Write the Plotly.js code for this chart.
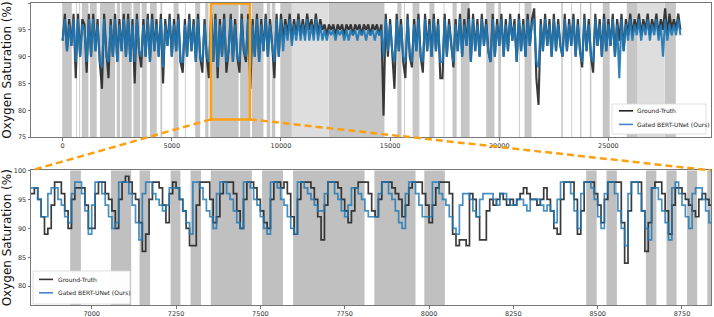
<!DOCTYPE html>
<html>
<head>
<meta charset="utf-8">
<script src="https://cdn.plot.ly/plotly-3.0.1.min.js"></script>
<style>
  html, body { margin: 0; padding: 0; background: #ffffff; }
  #chart { width: 714px; height: 317px; }
</style>
</head>
<body>
<div id="chart"></div>
<script>
// ---------------- DATA ----------------
const SERIES_NAMES = ["Ground-Truth", "Gated BERT-UNet (Ours)"];
const Y_TITLE = "Oxygen Saturation (%)";

// Overview panel: one reading every 100 samples, starting at sample 0
const TOP_X_START = 0;
const TOP_X_STEP = 100;
const GT_TOP = [
  93,98,91,97,92,98,86,98,90,97,
  96,87,98,90,98,91,97,89,84,98,
  91,86,97,90,98,89,97,91,98,90,
  98,89,97,85,98,91,88,97,90,98,
  89,98,91,97,90,98,85,97,92,98,
  90,97,91,98,89,87,97,90,98,91,
  97,89,98,90,87,97,90,86,98,89,
  98,86,97,90,98,87,91,98,89,97,
  90,87,98,91,89,98,84,97,90,98,
  89,97,91,98,90,97,92,86,98,90,
  98,93,97,94,98,93,97,94,98,94,
  97,94,98,95,97,94,98,94,97,95,
  96,94,96,95,96,94,96,95,96,94,
  96,95,96,94,96,95,96,94,96,95,
  96,94,96,95,96,94,96,79,98,90,
  97,90,84,98,91,97,89,86,98,90,
  88,97,91,98,90,87,98,91,97,90,
  98,91,97,86,86,98,90,97,92,88,
  97,91,98,90,97,92,99,89,98,91,
  97,90,98,92,97,91,89,98,90,97,
  92,98,90,97,91,98,93,97,89,98,
  91,97,90,98,92,97,99,86,81,97,
  91,98,92,97,90,98,91,97,92,90,
  98,91,97,92,98,90,97,91,88,98,
  91,97,90,87,98,92,97,90,98,91,
  97,92,98,90,97,93,98,91,97,94,
  98,94,97,95,98,94,97,95,98,94,
  97,95,98,94,97,95,99,94,98,95,
  97,95,98,95
];
const PRED_TOP = [
  93,97,91,96,92,97,89,97,90,96,
  95,89,97,90,97,91,96,89,88,97,
  90,89,96,90,97,89,96,91,97,90,
  97,89,96,89,97,91,90,96,90,97,
  89,97,91,96,90,97,88,96,92,97,
  90,96,91,97,89,89,96,90,97,91,
  96,89,97,90,89,96,90,89,97,89,
  97,88,96,90,97,89,91,97,89,96,
  90,89,97,91,90,97,88,96,90,97,
  89,96,91,97,90,96,92,89,97,90,
  97,91,96,93,97,92,96,93,97,93,
  96,93,97,93,96,93,97,93,96,93,
  95,93,95,94,95,93,95,94,95,93,
  95,93,95,94,95,93,95,94,95,93,
  95,94,95,93,95,94,95,90,97,91,
  96,91,89,97,91,96,90,89,97,91,
  89,96,91,97,90,89,97,91,96,90,
  97,91,96,89,89,97,90,96,92,89,
  96,91,97,90,96,92,97,89,97,91,
  96,90,97,92,96,91,89,97,90,96,
  92,97,90,96,91,97,93,96,89,97,
  91,96,90,97,92,96,97,89,88,96,
  91,97,92,96,90,97,91,96,92,90,
  97,91,96,92,97,90,96,91,89,97,
  91,96,90,89,97,92,96,90,97,91,
  96,92,97,90,96,86,97,91,96,93,
  97,93,96,94,97,93,96,94,97,93,
  96,94,97,93,96,90,97,93,96,94,
  96,94,97,94
];

// Zoomed panel: one reading every 10 samples, starting at sample 6820
const ZOOM_X_START = 6820;
const ZOOM_X_STEP = 10;
const GT_ZOOM = [
  96,97,95,92,89,90,94,98,98,96,
  93,90,95,97,97,97,94,90,90,96,
  98,98,96,95,93,90,95,98,99,98,
  96,95,91,86,89,95,98,98,97,94,
  91,96,98,97,95,93,90,87,87,94,
  98,98,98,95,91,92,96,98,98,98,
  96,93,90,95,98,98,97,95,93,91,
  90,95,98,98,97,98,96,92,89,95,
  98,98,98,97,95,92,88,94,98,98,
  98,97,95,93,91,93,97,98,98,98,
  96,93,92,95,98,98,98,97,96,95,
  92,94,97,98,98,98,96,94,91,94,
  97,98,98,98,96,89,87,88,88,87,
  96,95,92,88,88,93,95,94,95,96,
  95,94,95,94,95,96,97,96,95,95,
  94,95,97,95,93,90,89,95,98,98,
  98,95,89,93,98,98,98,96,94,91,
  95,98,98,98,98,91,84,93,98,98,
  98,93,86,91,97,98,98,96,93,89,
  94,97,97,96,95,94,93,92,95,96,
  95,94,94
];
const PRED_ZOOM = [
  97,97,95,92,92,96,97,97,95,94,
  92,91,96,98,98,96,93,89,94,98,
  98,96,94,92,90,91,98,98,98,96,
  94,91,88,96,98,98,96,95,94,93,
  94,97,97,97,95,93,91,89,98,98,
  97,95,93,92,90,96,98,98,96,95,
  93,91,90,98,98,97,95,94,92,90,
  89,98,98,97,95,94,92,90,89,98,
  98,97,96,95,94,93,93,96,98,98,
  96,95,93,92,94,97,97,96,95,93,
  92,92,92,96,98,98,96,95,93,91,
  90,96,98,98,96,94,92,92,92,98,
  98,96,95,94,92,90,89,94,96,96,
  95,93,92,95,96,96,96,95,94,96,
  96,95,94,94,95,95,94,93,95,95,
  95,94,93,94,93,91,95,98,98,98,
  96,93,90,96,98,98,97,95,92,90,
  96,98,98,96,93,90,87,96,98,98,
  96,93,90,88,97,97,95,93,91,88,
  97,98,96,94,92,90,96,97,97,95,
  93,91,90
];

// Shaded (gray) spans, [start, end] in samples
const TOP_SPANS = [
  [-20,420],[610,650],[760,800],[880,1180],[1250,1560],[1710,2400],[2480,2630],
  [2700,3160],[3240,3550],[3620,3850],[4000,4310],[4480,4560],[5080,5310],[5600,5640],
  [6070,6300],[6530,6680],[6760,8060],[8130,8590],[8670,9200],[9350,9510],[9580,9740],
  [9970,10500],[12190,14740],
  [15330,15520],[15640,15680],[16030,16340],[16800,17030],[17450,17490],[17860,18050],
  [18240,18640],[19400,19780],[19950,20080],[20900,20940],[21160,21480],[22840,22910],
  [23300,23340],[23700,23760],[24150,24220],[24740,25060],[25840,26340],[27580,28090]
];
const TOP_LIGHT_SPANS = [[10500,12190],[26340,27580]];
const ZOOM_SPANS = [
  [6936,6968],[7057,7117],[7142,7173],[7234,7263],[7293,7324],[7353,7475],
  [7505,7567],[7597,7809],[7838,7960],[7986,8047],[8466,8497],[8526,8557],
  [8643,8674],[8704,8734],[8765,8795],[8825,8840]
];
// Zoom window drawn on the overview: [x0, x1, y0, y1]
const ZOOM_WINDOW = [6790, 8580, 78.3, 99.9];

const TOP_X_TICKS = [0, 5000, 10000, 15000, 20000, 25000];
const TOP_Y_TICKS = [75, 80, 85, 90, 95, 100];
const ZOOM_X_TICKS = [7000, 7250, 7500, 7750, 8000, 8250, 8500, 8750];
const ZOOM_Y_TICKS = [80, 85, 90, 95, 100];

// ---------------- BUILD ----------------
const W = 714, H = 317, M = {l: 31, r: 3, t: 3, b: 12};
const topX = GT_TOP.map((_, i) => TOP_X_START + i * TOP_X_STEP);
const zoomX = GT_ZOOM.map((_, i) => ZOOM_X_START + i * ZOOM_X_STEP);

const TOP_XR = [-1450, 29700], TOP_YR = [75, 100];
const ZOOM_XR = [6820, 8836], ZOOM_YR = [76.75, 100];
const TOP_DOM = [0.5560, 1.0], ZOOM_DOM = [0.0, 0.4455];

const BLACK = 'rgba(38,38,38,0.9)';
const BLUE_TOP = 'rgba(31,119,180,0.92)';
const BLUE_ZOOM = 'rgba(31,119,180,0.82)';
const LEGEND_BLUE = '#4a84cf';
const ORANGE = '#ffa010';

const traces = [
  {x: topX, y: GT_TOP, xaxis: 'x', yaxis: 'y', type: 'scatter', mode: 'lines',
   name: SERIES_NAMES[0], showlegend: false, line: {color: BLACK, width: 2.1}},
  {x: topX, y: PRED_TOP, xaxis: 'x', yaxis: 'y', type: 'scatter', mode: 'lines',
   name: SERIES_NAMES[1], showlegend: false, line: {color: BLUE_TOP, width: 2.1}},
  {x: zoomX, y: GT_ZOOM, xaxis: 'x2', yaxis: 'y2', type: 'scatter', mode: 'lines',
   name: SERIES_NAMES[0], showlegend: false, line: {color: BLACK, width: 1.7, shape: 'hv'}},
  {x: zoomX, y: PRED_ZOOM, xaxis: 'x2', yaxis: 'y2', type: 'scatter', mode: 'lines',
   name: SERIES_NAMES[1], showlegend: false, line: {color: BLUE_ZOOM, width: 1.7, shape: 'hv'}}
];

const shapes = [];
TOP_SPANS.forEach(s => shapes.push({type: 'rect', xref: 'x', yref: 'y domain', x0: s[0], x1: s[1], y0: 0, y1: 1,
  fillcolor: '#c6c6c6', line: {width: 0}, layer: 'below'}));
TOP_LIGHT_SPANS.forEach(s => shapes.push({type: 'rect', xref: 'x', yref: 'y domain', x0: s[0], x1: s[1], y0: 0, y1: 1,
  fillcolor: '#dedede', line: {width: 0}, layer: 'below'}));
ZOOM_SPANS.forEach(s => shapes.push({type: 'rect', xref: 'x2', yref: 'y2 domain', x0: s[0], x1: s[1], y0: 0, y1: 1,
  fillcolor: '#c0c0c0', line: {width: 0}, layer: 'below'}));

// zoom window rectangle
shapes.push({type: 'rect', xref: 'x', yref: 'y', x0: ZOOM_WINDOW[0], x1: ZOOM_WINDOW[1], y0: ZOOM_WINDOW[2], y1: ZOOM_WINDOW[3],
  line: {color: ORANGE, width: 2.5}, fillcolor: 'rgba(0,0,0,0)', layer: 'above'});

// connectors: from the window's lower corners (through the overview scales) to the zoom panel's top corners
const px = x => (x - TOP_XR[0]) / (TOP_XR[1] - TOP_XR[0]);
const py = y => TOP_DOM[0] + (y - TOP_YR[0]) / (TOP_YR[1] - TOP_YR[0]) * (TOP_DOM[1] - TOP_DOM[0]);
shapes.push({type: 'line', xref: 'paper', yref: 'paper', x0: px(ZOOM_WINDOW[0]), y0: py(ZOOM_WINDOW[2]), x1: 0, y1: ZOOM_DOM[1],
  line: {color: ORANGE, width: 2.5, dash: '7px,4px'}, layer: 'above'});
shapes.push({type: 'line', xref: 'paper', yref: 'paper', x0: px(ZOOM_WINDOW[1]), y0: py(ZOOM_WINDOW[2]), x1: 1, y1: ZOOM_DOM[1],
  line: {color: ORANGE, width: 2.5, dash: '7px,4px'}, layer: 'above'});

// compact legends (matplotlib-like), positioned in pixels of the page
const PW = W - M.l - M.r, PH = H - M.t - M.b;
const fx = p => (p - M.l) / PW, fy = p => 1 - (p - M.t) / PH;
const annotations = [];
function addLegend(box, rows, lineX0, lineX1, textX) {
  shapes.push({type: 'rect', xref: 'paper', yref: 'paper', x0: fx(box[0]), x1: fx(box[1]), y0: fy(box[3]), y1: fy(box[2]),
    fillcolor: 'rgba(255,255,255,0.96)', line: {color: '#d8d8d8', width: 0.8}, layer: 'above'});
  rows.forEach((r, i) => {
    shapes.push({type: 'line', xref: 'paper', yref: 'paper', x0: fx(lineX0), x1: fx(lineX1), y0: fy(r.y), y1: fy(r.y),
      line: {color: r.color, width: 1.6}, layer: 'above'});
    annotations.push({xref: 'paper', yref: 'paper', x: fx(textX), y: fy(r.y), xanchor: 'left', yanchor: 'middle',
      text: SERIES_NAMES[i], showarrow: false, font: {family: 'DejaVu Sans', size: 6, color: '#222'}});
  });
}
addLegend([612, 706, 104, 134], [{y: 110.8, color: '#222222'}, {y: 124.4, color: LEGEND_BLUE}], 619, 633, 635);
addLegend([33, 130, 271, 304], [{y: 279.4, color: '#333333'}, {y: 292.8, color: LEGEND_BLUE}], 39, 53, 56);

const tickFont = {family: 'DejaVu Sans', size: 6.5, color: '#333'};
const titleFont = {family: 'DejaVu Sans', size: 12, color: '#111'};
const axisCommon = {showgrid: false, zeroline: false, showline: true, mirror: true, linecolor: '#777', linewidth: 1,
  ticks: 'outside', ticklen: 2.5, tickwidth: 0.8, tickcolor: '#555', tickfont: tickFont, fixedrange: true};

const layout = {
  width: W, height: H,
  margin: M,
  paper_bgcolor: '#ffffff', plot_bgcolor: '#ffffff',
  font: {family: 'DejaVu Sans'},
  showlegend: false,
  xaxis: Object.assign({}, axisCommon, {domain: [0, 1], anchor: 'y', range: TOP_XR, tickvals: TOP_X_TICKS,
    ticktext: TOP_X_TICKS.map(String)}),
  yaxis: Object.assign({}, axisCommon, {domain: TOP_DOM, anchor: 'x', range: TOP_YR, tickvals: TOP_Y_TICKS,
    title: {text: Y_TITLE, font: titleFont, standoff: 3}}),
  xaxis2: Object.assign({}, axisCommon, {domain: [0, 1], anchor: 'y2', range: ZOOM_XR, tickvals: ZOOM_X_TICKS,
    ticktext: ZOOM_X_TICKS.map(String)}),
  yaxis2: Object.assign({}, axisCommon, {domain: ZOOM_DOM, anchor: 'x2', range: ZOOM_YR, tickvals: ZOOM_Y_TICKS,
    title: {text: Y_TITLE, font: titleFont, standoff: 3}}),
  shapes: shapes,
  annotations: annotations
};

Plotly.newPlot('chart', traces, layout, {staticPlot: true, displayModeBar: false});
</script>
</body>
</html>
